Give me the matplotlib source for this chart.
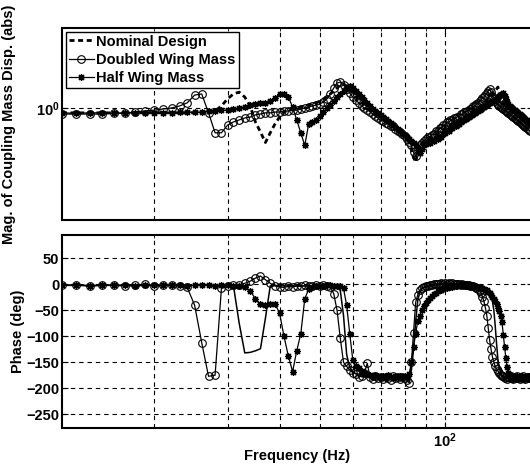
import matplotlib
matplotlib.use("Agg")
import matplotlib.pyplot as plt
from matplotlib.ticker import LogLocator, NullLocator, NullFormatter, FixedLocator

plt.rcParams['font.family'] = ['Liberation Sans', 'DejaVu Sans']
plt.rcParams['font.weight'] = 'bold'
plt.rcParams['axes.labelweight'] = 'bold'
plt.rcParams['mathtext.fontset'] = 'custom'
plt.rcParams['mathtext.rm'] = 'Liberation Sans:bold'
plt.rcParams['mathtext.bf'] = 'Liberation Sans:bold'
plt.rcParams['mathtext.default'] = 'bf'
plt.rcParams['font.size'] = 10.5

# ---------------- data ----------------
freq_hz = [12, 13, 14, 15, 16, 17, 18, 19,
           20, 21, 22, 23, 24, 25, 26, 27, 28, 29,
           30, 31, 32, 33, 34, 35, 36, 37, 38, 39,
           40, 41, 42, 43, 44, 45, 46, 47, 48, 49,
           50, 51, 52, 53, 54, 55, 56, 57, 58, 59,
           60, 61, 62, 63, 64, 65, 66, 67, 68, 69,
           70, 71, 72, 73, 74, 75, 76, 77, 78, 79,
           80, 81, 82, 83, 84, 85, 86, 87, 88, 89,
           90, 91, 92, 93, 94, 95, 96, 97, 98, 99,
           100, 101, 102, 103, 104, 105, 106, 107, 108, 109,
           110, 111, 112, 113, 114, 115, 116, 117, 118, 119,
           120, 121, 122, 123, 124, 125, 126, 127, 128, 129,
           130, 131, 132, 133, 134, 135, 136, 137, 138, 139,
           140, 141, 142, 143, 144, 145, 146, 147, 148, 149,
           150, 151, 152, 153, 154, 155, 156, 157, 158, 159,
           160]

mag_nominal = [0.87, 0.87, 0.87, 0.87, 0.87, 0.87, 0.87, 0.87,
               0.87, 0.87, 0.87, 0.87, 0.87, 0.87, 0.87, 0.88, 0.92, 1.06,
               1.30, 1.50, 1.58, 1.37, 1.06, 0.67, 0.50, 0.37, 0.49, 0.63,
               0.77, 0.89, 0.94, 0.97, 1.00, 1.03, 1.06, 1.09, 1.12, 1.16,
               1.22, 1.30, 1.37, 1.50, 1.63, 1.78, 1.94, 2.00, 1.88, 1.68,
               1.54, 1.37, 1.26, 1.16, 1.09, 1.00, 0.94, 0.89, 0.84, 0.79,
               0.77, 0.73, 0.69, 0.65, 0.61, 0.60, 0.56, 0.53, 0.50, 0.47,
               0.45, 0.41, 0.37, 0.30, 0.24, 0.21, 0.28, 0.33, 0.36, 0.38,
               0.39, 0.40, 0.42, 0.43, 0.45, 0.46, 0.49, 0.50, 0.52, 0.53,
               0.56, 0.58, 0.60, 0.61, 0.63, 0.65, 0.67, 0.69, 0.71, 0.73,
               0.75, 0.77, 0.79, 0.82, 0.84, 0.87, 0.89, 0.92, 0.94, 0.97,
               1.00, 1.03, 1.06, 1.09, 1.16, 1.19, 1.22, 1.30, 1.33, 1.41,
               1.45, 1.54, 1.63, 1.73, 1.83, 1.54, 1.37, 1.26, 1.19, 1.12,
               1.09, 1.06, 1.03, 1.00, 0.97, 0.94, 0.92, 0.89, 0.87, 0.84,
               0.82, 0.79, 0.77, 0.75, 0.73, 0.71, 0.69, 0.67, 0.65, 0.63,
               0.61]

mag_doubled = [0.84, 0.84, 0.84, 0.84, 0.86, 0.86, 0.89, 0.92,
               0.94, 0.97, 1.00, 1.06, 1.16, 1.45, 1.50, 0.87, 0.49, 0.49,
               0.61, 0.67, 0.71, 0.75, 0.77, 0.82, 0.84, 0.87, 0.87, 0.89,
               0.89, 0.92, 0.92, 0.94, 0.94, 0.97, 1.00, 1.03, 1.06, 1.09,
               1.12, 1.19, 1.30, 1.50, 1.78, 2.05, 2.11, 1.94, 1.73, 1.54,
               1.37, 1.26, 1.16, 1.06, 1.00, 0.94, 0.90, 0.84, 0.79, 0.75,
               0.70, 0.69, 0.65, 0.63, 0.60, 0.60, 0.55, 0.52, 0.50, 0.47,
               0.45, 0.41, 0.38, 0.34, 0.28, 0.25, 0.30, 0.34, 0.37, 0.39,
               0.41, 0.43, 0.44, 0.46, 0.48, 0.51, 0.52, 0.56, 0.56, 0.61,
               0.62, 0.66, 0.66, 0.70, 0.70, 0.74, 0.74, 0.78, 0.78, 0.83,
               0.83, 0.88, 0.88, 0.93, 0.93, 0.98, 0.99, 1.05, 1.05, 1.13,
               1.16, 1.22, 1.26, 1.33, 1.37, 1.45, 1.54, 1.63, 1.73, 1.58,
               1.41, 1.30, 1.22, 1.16, 1.09, 1.06, 1.03, 1.00, 0.97, 0.94,
               0.92, 0.89, 0.87, 0.84, 0.82, 0.79, 0.77, 0.75, 0.73, 0.71,
               0.69, 0.67, 0.65, 0.63, 0.61, 0.60, 0.58, 0.56, 0.55, 0.53,
               0.52]

mag_half = [0.87, 0.86, 0.87, 0.87, 0.86, 0.87, 0.87, 0.87,
            0.87, 0.87, 0.87, 0.89, 0.89, 0.89, 0.89, 0.92, 0.92, 0.94,
            0.94, 0.97, 1.00, 1.03, 1.09, 1.12, 1.16, 1.16, 1.22, 1.33,
            1.50, 1.50, 1.37, 1.03, 0.71, 0.49, 0.34, 0.63, 0.67, 0.71,
            0.79, 0.89, 1.00, 1.09, 1.22, 1.37, 1.50, 1.63, 1.78, 1.88,
            1.78, 1.63, 1.50, 1.37, 1.26, 1.16, 1.06, 0.97, 0.92, 0.87,
            0.82, 0.77, 0.73, 0.69, 0.65, 0.61, 0.58, 0.55, 0.52, 0.49,
            0.46, 0.43, 0.41, 0.39, 0.37, 0.34, 0.30, 0.27, 0.31, 0.34,
            0.35, 0.38, 0.37, 0.40, 0.39, 0.42, 0.41, 0.44, 0.44, 0.48,
            0.49, 0.51, 0.52, 0.54, 0.56, 0.59, 0.60, 0.62, 0.63, 0.66,
            0.69, 0.71, 0.73, 0.75, 0.77, 0.79, 0.82, 0.84, 0.87, 0.89,
            0.92, 0.94, 0.97, 1.00, 1.03, 1.06, 1.09, 1.12, 1.16, 1.19,
            1.22, 1.26, 1.30, 1.33, 1.37, 1.41, 1.45, 1.50, 1.54, 1.41,
            1.30, 1.19, 1.12, 1.06, 1.03, 1.00, 0.97, 0.94, 0.92, 0.89,
            0.87, 0.84, 0.82, 0.79, 0.77, 0.75, 0.73, 0.71, 0.69, 0.67,
            0.65]

phase_nominal = [-2, -2, -2, -2, -2, -2, -2, -2,
                 -2, -2, -2, -2, -2, -2, -2, -2, -2, -2,
                 -2, -3, -75, -132, -131, -128, -124, -65, -3, -2,
                 -3, -3, -3, -3, -3, -3, -3, -3, -3, -3,
                 -3, -3, -3, -4, -4, -6, -12, -60, -135, -160,
                 -168, -172, -175, -178, -177, -179, -178, -180, -177, -179,
                 -181, -178, -180, -177, -179, -181, -178, -180, -177, -179,
                 -180, -178, -181, -165, -125, -70, -30, -15, -9, -6,
                 -5, -4, -3, -2, -2, -1, -1, 0, 0, 0,
                 0, 0, 0, 0, 0, 0, 0, -1, -1, -1,
                 -1, -1, -2, -2, -2, -3, -3, -3, -4, -4,
                 -5, -5, -6, -7, -8, -9, -10, -13, -17, -24,
                 -33, -50, -80, -115, -145, -160, -170, -175, -178, -180,
                 -177, -180, -182, -178, -179, -181, -177, -180, -182, -178,
                 -180, -177, -181, -179, -182, -178, -180, -177, -181, -179,
                 -180]

phase_doubled = [-2, -1, -3, -2, -2, -3, -2, 0,
                 -4, -2, -2, -3, -6, -40, -112, -177, -175, -8,
                 -3, -2, -1, 2, 6, 12, 16, 9, 2, -3,
                 -5, -6, -4, -5, -3, -4, -2, -4, -3, -2,
                 -3, -2, -3, -6, -18, -50, -104, -150, -158, -165,
                 -170, -172, -178, -176, -170, -152, -178, -182, -177, -181,
                 -179, -183, -178, -180, -184, -177, -181, -179, -183, -178,
                 -181, -185, -190, -150, -93, -34, -20, -11, -7, -5,
                 -4, -3, -2, -1, 0, 1, 0, 1, 2, 1,
                 2, 1, 2, 1, 2, 1, 0, 1, 0, -1,
                 0, -1, -2, -1, -2, -3, -3, -4, -5, -7,
                 -9, -12, -17, -24, -33, -45, -60, -85, -108, -125,
                 -140, -150, -158, -163, -167, -170, -174, -177, -176, -180,
                 -178, -182, -179, -181, -177, -180, -183, -178, -181, -176,
                 -180, -182, -178, -181, -177, -180, -183, -179, -181, -178,
                 -180]

phase_half = [-2, -2, -3, -2, -1, -2, -3, -2,
              -2, -1, -2, -2, -3, -2, -2, -2, -3, -2,
              -2, -3, -4, -6, -12, -28, -38, -40, -37, -38,
              -55, -100, -138, -168, -128, -95, -28, -9, -5, -4,
              -3, -3, -2, -2, -3, -3, -4, -8, -40, -95,
              -145, -158, -162, -166, -170, -173, -175, -178, -174, -177,
              -180, -176, -179, -175, -178, -181, -176, -179, -177, -180,
              -176, -178, -172, -150, -120, -95, -70, -60, -50, -42,
              -36, -31, -27, -22, -19, -16, -13, -11, -10, -9,
              -8, -7, -6, -5, -5, -4, -3, -3, -2, -2,
              -1, -2, -1, -2, -2, -3, -3, -4, -4, -5,
              -5, -6, -7, -8, -9, -10, -11, -14, -17, -21,
              -25, -29, -33, -37, -45, -52, -60, -72, -97, -120,
              -142, -160, -170, -175, -180, -177, -182, -178, -181, -176,
              -183, -179, -181, -177, -182, -179, -183, -178, -180, -177,
              -182]

series_labels = ['Nominal Design', 'Doubled Wing Mass', 'Half Wing Mass']
phase_ticks = [-250, -200, -150, -100, -50, 0, 50]

# ---------------- figure ----------------
W, H = 530, 470
fig = plt.figure(figsize=(W / 100, H / 100), dpi=100)
left = 62 / W
width = (533 - 62) / W
ax1 = fig.add_axes([left, (H - 220) / H, width, 192 / H])
ax2 = fig.add_axes([left, (H - 427.7) / H, width, 192.7 / H])

nom_kw = dict(color='k', lw=2.0, linestyle=(0, (1.8, 1.3)))
dbl_kw = dict(color='k', lw=0.9, marker='o', ms=5.5, mfc='none', mec='k', mew=0.8)
half_kw = dict(color='k', lw=0.9, marker=(8, 2, 0), ms=5, mec='k', mew=0.9)

ax1.plot(freq_hz, mag_nominal, label=series_labels[0], **nom_kw)
ax1.plot(freq_hz, mag_doubled, label=series_labels[1], **dbl_kw)
ax1.plot(freq_hz, mag_half, label=series_labels[2], **half_kw)

ax2.plot(freq_hz, phase_nominal, color='k', lw=1.1)
ax2.plot(freq_hz, phase_doubled, **dbl_kw)
ax2.plot(freq_hz, phase_half, **half_kw)

for ax in (ax1, ax2):
    ax.set_xscale('log')
    ax.set_xlim(12, 162.7)
    ax.xaxis.set_major_locator(LogLocator(base=10))
    ax.xaxis.set_minor_locator(LogLocator(base=10, subs=(2, 3, 4, 5, 6, 7, 8, 9)))
    ax.xaxis.set_minor_formatter(NullFormatter())
    ax.grid(True, which='major', color='k', lw=0.8, linestyle=(0, (4, 3.5)))
    ax.grid(True, which='minor', axis='x', color='k', lw=0.8, linestyle=(0, (4, 3.5)))
    ax.tick_params(which='both', direction='in', top=True, right=True)
    ax.tick_params(which='major', length=4, pad=2)
    ax.tick_params(which='minor', length=2)
    for s in ax.spines.values():
        s.set_linewidth(1.5)
    ax.set_axisbelow(True)

ax1.set_yscale('log')
ax1.set_ylim(10 ** -1.4, 10 ** 1.0)
ax1.yaxis.set_major_locator(FixedLocator([1.0]))
ax1.yaxis.set_minor_locator(NullLocator())
ax1.tick_params(labelbottom=False)
ax1.set_ylabel('Mag. of Coupling Mass Disp. (abs)')
ax1.yaxis.set_label_coords(-0.098, 0.5)

ax2.set_ylim(-276, 95)
ax2.set_yticks(phase_ticks)
ax2.set_ylabel('Phase (deg)')
ax2.yaxis.set_label_coords(-0.078, 0.5)
ax2.set_xlabel('Frequency (Hz)')
ax2.xaxis.set_label_coords(0.5, -0.11)
ax2.tick_params(axis='x', which='major', pad=3)

leg = ax1.legend(loc='upper left', bbox_to_anchor=(0.0, 1.0), borderaxespad=0.25,
                 fancybox=False, framealpha=1, edgecolor='k', handlelength=1.75,
                 handletextpad=0.15, labelspacing=0.3, borderpad=0.2, numpoints=1)
leg.get_frame().set_linewidth(1.0)

fig.savefig('out.png', dpi=100)
